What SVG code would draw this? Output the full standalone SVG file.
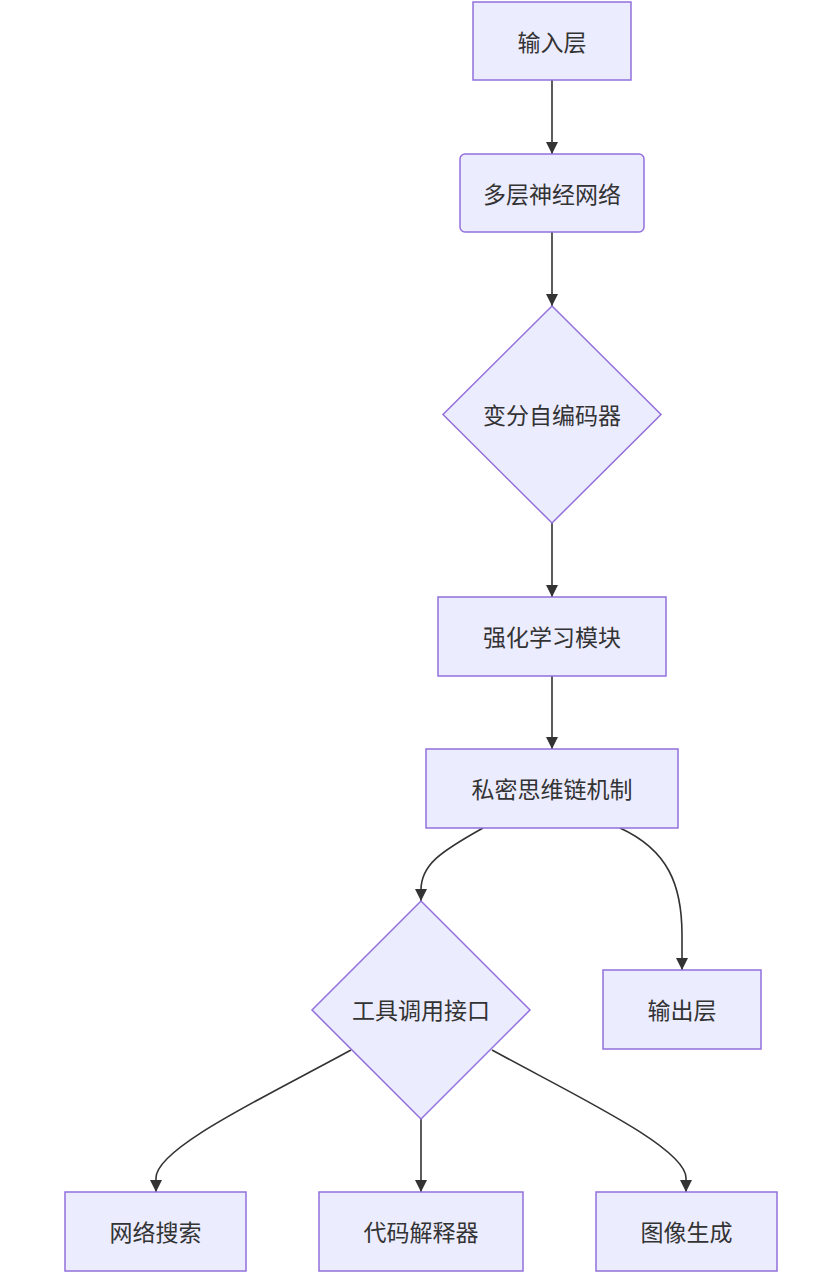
<svg xmlns="http://www.w3.org/2000/svg" width="832" height="1280" viewBox="0 0 832 1280">
<style>
.node rect, .node polygon { fill: #ECECFF; stroke: #9370DB; stroke-width: 1.5; }
.node text { font-family: "Noto Sans CJK SC", "Noto Sans", sans-serif; font-size: 23px; fill: #333333; text-anchor: middle; dominant-baseline: central; }
.edges path { fill: none; stroke: #333333; stroke-width: 1.6; }
</style>
<defs>
<marker id="arrow" viewBox="0 0 10 10" refX="10" refY="5" markerWidth="12" markerHeight="12" markerUnits="userSpaceOnUse" orient="auto">
<path d="M0,0 L10,5 L0,10 z" fill="#333333"/>
</marker>
</defs>
<rect width="832" height="1280" fill="#FFFFFF"/>
<g class="edges">
<path d="M552,80 L552,154" marker-end="url(#arrow)"/>
<path d="M552,232 L552,306" marker-end="url(#arrow)"/>
<path d="M552,523 L552,597" marker-end="url(#arrow)"/>
<path d="M552,676 L552,749" marker-end="url(#arrow)"/>
<path d="M483,828 C 440,852 421,865 421,890 L421,901" marker-end="url(#arrow)"/>
<path d="M620,828 C 668,850 682,885 682,935 L682,970" marker-end="url(#arrow)"/>
<path d="M351,1050 C 265,1097 156,1148 156,1178 L156,1192" marker-end="url(#arrow)"/>
<path d="M421,1119 L421,1192" marker-end="url(#arrow)"/>
<path d="M492,1050 C 578,1097 686,1148 686,1178 L686,1192" marker-end="url(#arrow)"/>
</g>
<g id="input" class="node"><rect x="473" y="2" width="158" height="78"/><text x="552" y="41">输入层</text></g>
<g id="nn" class="node"><rect x="460" y="154" width="184" height="78" rx="5" ry="5"/><text x="552" y="193">多层神经网络</text></g>
<g id="vae" class="node"><polygon points="552,306 661,414.5 552,523 443,414.5"/><text x="552" y="414">变分自编码器</text></g>
<g id="rl" class="node"><rect x="438" y="597" width="228" height="79"/><text x="552" y="636">强化学习模块</text></g>
<g id="cot" class="node"><rect x="426" y="749" width="252" height="79"/><text x="552" y="788">私密思维链机制</text></g>
<g id="tool" class="node"><polygon points="421,901 530,1010 421,1119 312,1010"/><text x="421" y="1009">工具调用接口</text></g>
<g id="output" class="node"><rect x="603" y="970" width="158" height="79"/><text x="682" y="1009">输出层</text></g>
<g id="search" class="node"><rect x="65" y="1192" width="181" height="79"/><text x="155.5" y="1231">网络搜索</text></g>
<g id="code" class="node"><rect x="319" y="1192" width="204" height="79"/><text x="421" y="1231">代码解释器</text></g>
<g id="image" class="node"><rect x="596" y="1192" width="181" height="79"/><text x="686.5" y="1231">图像生成</text></g>
</svg>
